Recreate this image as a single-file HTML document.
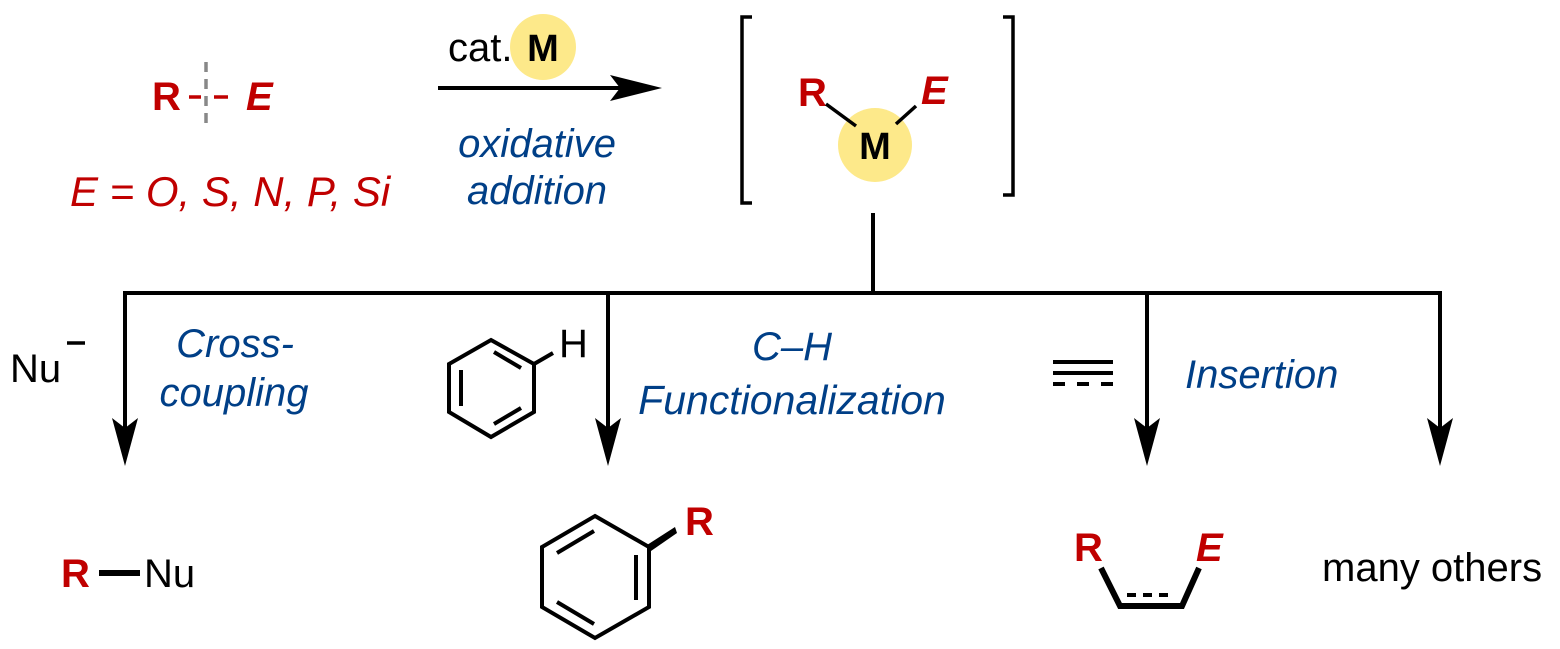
<!DOCTYPE html>
<html><head><style>html,body{margin:0;padding:0;background:#fff}svg{display:block}</style></head>
<body>
<svg width="1560" height="649" viewBox="0 0 1560 649" xmlns="http://www.w3.org/2000/svg" font-family="Liberation Sans, sans-serif">
<!-- R--E -->
<g fill="#c00000" font-size="40" font-weight="bold">
<text x="152" y="110">R</text>
<text x="246" y="110" font-style="italic">E</text>
</g>
<line x1="189" y1="97" x2="201" y2="97" stroke="#c00000" stroke-width="3.5"/>
<line x1="214" y1="97" x2="228" y2="97" stroke="#c00000" stroke-width="3.5"/>
<line x1="206" y1="62" x2="206" y2="123" stroke="#888" stroke-width="3.5" stroke-dasharray="10,7"/>
<text x="70" y="206" fill="#c00000" font-size="42" font-style="italic">E = O, S, N, P, Si</text>
<!-- top arrow -->
<circle cx="543" cy="47" r="33" fill="#fde98a"/>
<text x="448" y="61" font-size="40">cat.</text>
<text x="543" y="61" font-size="38" font-weight="bold" text-anchor="middle">M</text>
<line x1="438" y1="88" x2="630" y2="88" stroke="#000" stroke-width="4"/>
<polygon points="662,88 610,75 620,88 610,101" fill="#000"/>
<g fill="#003f87" font-size="40" font-style="italic" text-anchor="middle">
<text x="537" y="157">oxidative</text>
<text x="537" y="204">addition</text>
</g>
<!-- brackets -->
<polyline points="752,17 742,17 742,203 752,203" fill="none" stroke="#000" stroke-width="3.5"/>
<polyline points="1003,17 1013,17 1013,195 1003,195" fill="none" stroke="#000" stroke-width="3.5"/>
<circle cx="875" cy="145" r="37" fill="#fde98a"/>
<text x="875" y="159" font-size="38" font-weight="bold" text-anchor="middle">M</text>
<text x="798" y="106" fill="#c00000" font-size="40" font-weight="bold">R</text>
<text x="921" y="104" fill="#c00000" font-size="40" font-weight="bold" font-style="italic">E</text>
<line x1="826" y1="104" x2="856" y2="126" stroke="#000" stroke-width="3.5"/>
<line x1="916" y1="106" x2="896" y2="124" stroke="#000" stroke-width="3.5"/>
<!-- tree -->
<g stroke="#000" stroke-width="4" fill="none">
<line x1="873" y1="213" x2="873" y2="293"/>
<line x1="123" y1="293" x2="1442" y2="293"/>
<line x1="125" y1="293" x2="125" y2="430"/>
<line x1="608" y1="293" x2="608" y2="430"/>
<line x1="1147" y1="293" x2="1147" y2="430"/>
<line x1="1440" y1="293" x2="1440" y2="430"/>
</g>
<g fill="#000">
<polygon points="125,466 112,418 125,428 138,418"/>
<polygon points="608,466 595,418 608,428 621,418"/>
<polygon points="1147,466 1134,418 1147,428 1160,418"/>
<polygon points="1440,466 1427,418 1440,428 1453,418"/>
</g>
<!-- labels -->
<text x="10" y="382" font-size="40">Nu</text>
<line x1="67" y1="343" x2="85" y2="343" stroke="#000" stroke-width="3.5"/>
<g fill="#003f87" font-size="40" font-style="italic" text-anchor="middle">
<text x="235" y="357">Cross-</text>
<text x="234" y="406">coupling</text>
<text x="792" y="360">C–H</text>
<text x="792" y="414" font-size="41">Functionalization</text>
<text x="1185" y="388" text-anchor="start">Insertion</text>
</g>
<!-- benzene H -->
<g stroke="#000" stroke-width="4" fill="none" stroke-linejoin="miter">
<polygon points="491,340 534,364 534,412 491,437 449,412 449,364"/>
<line x1="494" y1="352" x2="521" y2="368"/>
<line x1="461" y1="370" x2="461" y2="406"/>
<line x1="494" y1="424" x2="521" y2="408"/>
<line x1="534" y1="364" x2="553" y2="353"/>
</g>
<text x="559" y="357" font-size="40">H</text>
<!-- alkyne dashes -->
<g stroke="#000" stroke-width="4">
<line x1="1053" y1="362" x2="1113" y2="362"/>
<line x1="1053" y1="373" x2="1113" y2="373"/>
<line x1="1053" y1="384" x2="1113" y2="384" stroke-dasharray="12,12"/>
</g>
<!-- products -->
<text x="61" y="587" fill="#c00000" font-size="40" font-weight="bold">R</text>
<line x1="99" y1="573" x2="140" y2="573" stroke="#000" stroke-width="6"/>
<text x="144" y="587" font-size="40">Nu</text>
<g stroke="#000" stroke-width="4" fill="none">
<polygon points="595,516 649,547 649,607 595,638 542,607 542,547"/>
<line x1="594" y1="531" x2="557" y2="553"/>
<line x1="636" y1="555" x2="636" y2="600"/>
<line x1="594" y1="624" x2="557" y2="602"/>
</g>
<polygon points="647,545 675,527 677,533 651,551" fill="#000"/>
<text x="685" y="535" fill="#c00000" font-size="40" font-weight="bold">R</text>
<text x="1074" y="561" fill="#c00000" font-size="40" font-weight="bold">R</text>
<text x="1196" y="561" fill="#c00000" font-size="40" font-weight="bold" font-style="italic">E</text>
<polyline points="1101,568 1120,606 1182,606 1199,568" fill="none" stroke="#000" stroke-width="6" stroke-linejoin="miter"/>
<line x1="1127" y1="595" x2="1173" y2="595" stroke="#000" stroke-width="4" stroke-dasharray="9,7"/>
<text x="1322" y="581" font-size="40">many others</text>
</svg>
</body></html>
